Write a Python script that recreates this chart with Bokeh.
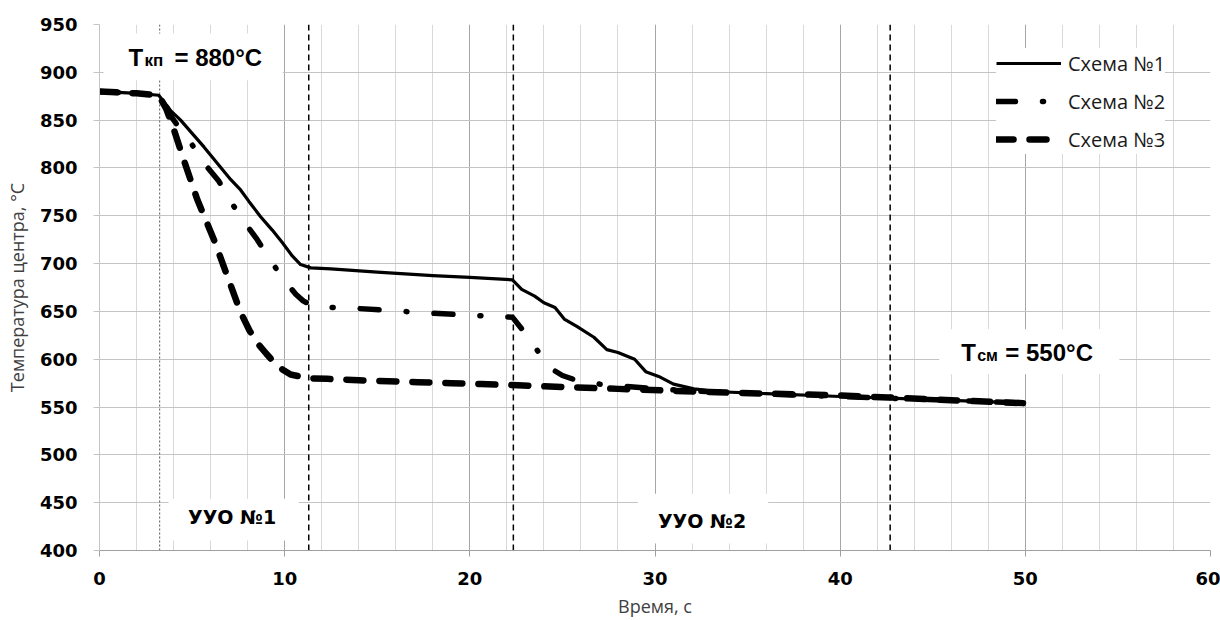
from bokeh.plotting import figure
from bokeh.models import Range1d, SingleIntervalTicker, Label, Legend, LegendItem
from bokeh.embed import file_html
from bokeh.resources import INLINE

# ---- data ----
t1 = [0, 1, 2, 3.2, 3.84, 4.38, 4.92, 5.64, 6.36, 7.08, 7.62, 8.07, 8.7, 9.33, 9.87,
      10.41, 10.86, 11.41, 12.5, 15, 18, 20, 22.3, 22.8, 23.5, 24.0, 24.6, 25.1, 25.8,
      26.7, 27.4, 28.0, 28.9, 29.5, 30.2, 31.0, 32.1, 33.5, 36, 40, 43, 46, 50]
T1 = [880, 879, 878, 876, 860, 850, 838, 822, 805, 788, 777, 765, 749, 735, 722,
      708, 699, 695.5, 694.5, 691, 687.5, 685.5, 683, 673, 666, 659, 654, 642, 634,
      623, 610, 607, 600, 587, 582, 574, 569, 566, 564, 561, 559, 557, 554]

t2 = [0, 1, 2, 3.2, 3.39, 3.93, 5.01, 5.73, 6.45, 7.08, 7.8, 8.52, 9.19, 9.87, 10.6,
      11.0, 11.59, 14, 17.2, 20, 22.3, 23.0, 23.8, 24.4, 25.0, 25.6, 27, 30, 33, 37,
      40, 43, 46, 50]
T2 = [880, 879, 878, 876, 873, 852, 824, 803, 786, 765, 744, 725, 705, 685, 668,
      661, 655, 653, 649, 646, 644, 627, 605, 590, 583, 579, 574, 569, 566, 563,
      561, 559, 557, 554]

t3 = [0, 1, 2, 3.2, 3.6, 4.02, 4.56, 5.28, 6.18, 6.9, 7.62, 8.1, 8.52, 9.0, 9.42,
      9.9, 10.32, 11.3, 12.3, 14, 15.6, 17.2, 19, 20.6, 22.3, 25, 28, 31, 34, 37.4,
      40, 42.6, 45, 47.5, 50]
T3 = [880, 879, 878, 876, 862, 840, 808, 767, 725, 687, 649, 630, 617, 606, 597,
      589, 584, 580, 579.5, 578, 577, 576, 575, 574, 573, 571, 569, 567, 565, 563.5,
      562, 560, 558, 556, 554]

series_names = ["Схема №1", "Схема №2", "Схема №3"]
dotted_marks = [3.25]
dashed_marks = [11.3, 22.35, 42.7]
zone_labels = ["УУО №1", "УУО №2"]
zone_label_x = [7.16, 32.54]
zone_label_y = [435.4, 431.3]
x_title = "Время, с"
y_title = "Температура центра, °С"

p = figure(width=1220, height=620, x_range=Range1d(0, 60), y_range=Range1d(400, 950),
           output_backend="svg", toolbar_location=None,
           min_border_left=99, min_border_right=10, min_border_top=24, min_border_bottom=69)
p.background_fill_color = "white"
p.border_fill_color = "white"
p.outline_line_color = None

p.xaxis.ticker = SingleIntervalTicker(interval=10, num_minor_ticks=5)
p.yaxis.ticker = SingleIntervalTicker(interval=50)
p.xgrid.grid_line_color = "#a6a6a6"
p.xgrid.minor_grid_line_color = "#d9d9d9"
p.ygrid.grid_line_color = "#c4c4c4"

for ax in (p.xaxis[0], p.yaxis[0]):
    ax.major_label_text_font = "DejaVu Sans"
    ax.major_label_text_font_style = "bold"
    ax.major_label_text_font_size = "18px"
    ax.major_label_text_color = "#000000"
    ax.major_tick_in = 0
    ax.major_tick_out = 6
    ax.minor_tick_line_color = None
    ax.axis_label_text_font = "Open Sans"
    ax.axis_label_text_font_style = "normal"
    ax.axis_label_text_font_size = "18px"
    ax.axis_label_text_color = "#404040"
p.xaxis.axis_line_color = "#a0a0a0"
p.xaxis.major_tick_line_color = "#a0a0a0"
p.yaxis.axis_line_color = "#c4c4c4"
p.yaxis.major_tick_line_color = "#c4c4c4"
p.xaxis.major_label_standoff = 15
p.yaxis.major_label_standoff = 16
p.xaxis.axis_label = x_title
p.yaxis.axis_label = y_title
p.xaxis.axis_label_standoff = 6
p.yaxis.axis_label_standoff = 8

# vertical marker lines
p.segment(x0=dotted_marks, y0=[400] * len(dotted_marks), x1=dotted_marks,
          y1=[950] * len(dotted_marks), line_color="#555555", line_width=1, line_dash="2 2")
p.segment(x0=dashed_marks, y0=[400] * len(dashed_marks), x1=dashed_marks,
          y1=[950] * len(dashed_marks), line_color="#000000", line_width=1.5, line_dash="6 4")

# white label backgrounds
bx_l = [0.22, 45.35, 3.73, 29.08]
bx_r = [9.89, 55.08, 10.76, 36.11]
bx_t = [940.6, 631.25, 454.2, 459.4]
bx_b = [891.7, 584.4, 410.4, 407.3]
p.quad(left=bx_l, right=bx_r, top=bx_t, bottom=bx_b, fill_color="white", line_color=None)

# curves
r3 = p.line(t3, T3, line_color="black", line_width=6.5, line_dash="17 16",
            line_cap="round", line_join="round")
r2 = p.line(t2, T2, line_color="black", line_width=5.5, line_dash="19 27 1 27",
            line_cap="round", line_join="round")
r1 = p.line(t1, T1, line_color="black", line_width=3.2, line_join="round")

# annotations
def lab(x, y, text, size, align="left", baseline="alphabetic", font="Liberation Sans"):
    p.add_layout(Label(x=x, y=y, text=text, text_font=font, text_font_style="bold",
                       text_font_size=size, text_color="black", text_align=align,
                       text_baseline=baseline))

lab(1.57, 915.5, "T", "24px")
lab(2.43, 912.4, "кп", "17px")
lab(4.05, 915.5, "= 880°C", "24px")
lab(46.54, 607.5, "T", "24px")
lab(47.40, 603.4, "см", "16px")
lab(48.92, 607.5, "= 550°C", "24px")
for zx, zy, zt in zip(zone_label_x, zone_label_y, zone_labels):
    lab(zx, zy, zt, "19px", align="center", baseline="middle", font="DejaVu Sans")

legend = Legend(items=[LegendItem(label=series_names[0], renderers=[r1]),
                       LegendItem(label=series_names[1], renderers=[r2]),
                       LegendItem(label=series_names[2], renderers=[r3])],
                location=(897, 396))
legend.background_fill_color = "white"
legend.background_fill_alpha = 1.0
legend.border_line_color = None
legend.label_text_font = "Open Sans"
legend.label_text_font_size = "20px"
legend.label_text_color = "#1a1a1a"
legend.glyph_width = 65
legend.glyph_height = 30
legend.label_height = 30
legend.spacing = 8
legend.padding = 8
legend.margin = 0
legend.label_standoff = 7
p.add_layout(legend)

open("out.html", "w").write(file_html(p, INLINE))
